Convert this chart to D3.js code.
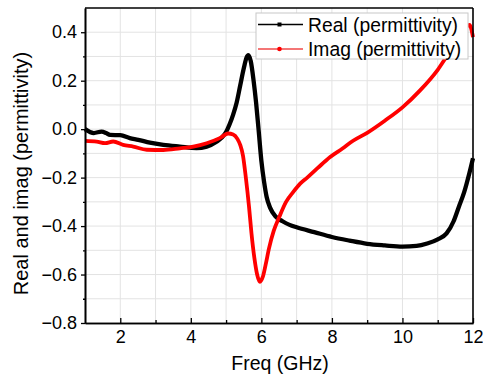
<!DOCTYPE html>
<html>
<head>
<meta charset="utf-8">
<script src="https://cdn.jsdelivr.net/npm/d3@7"></script>
<style>
  body { margin: 0; background: #fff; }
  svg { display: block; font-family: Arial, "Liberation Sans", sans-serif; }
  .grid line { stroke: #e3e3e3; stroke-width: 1; }
  .axis path, .axis line { stroke: #000; }
  .axis text { fill: #000; }
</style>
</head>
<body>
<div id="chart-area"></div>
<script>

let margin = {top: 8, right: 10, bottom: 56, left: 85};
let width = 483 - margin.left - margin.right;
let height = 379 - margin.top - margin.bottom;

// real part of permittivity
let realFreq = [1.0, 1.25, 1.47, 1.6, 1.71, 2.0, 2.27, 2.51, 2.84, 3.22, 3.69, 4.16, 4.45, 4.73, 4.88,
    5.0, 5.1, 5.2, 5.3, 5.4, 5.5, 5.58, 5.63, 5.7, 5.78, 5.85, 5.92, 6.0, 6.08, 6.15, 6.25, 6.4,
    6.6, 6.8, 7.0, 7.5, 8.0, 8.5, 9.0, 9.5, 10.0, 10.4, 10.7, 11.0, 11.25, 11.45, 11.6, 11.75, 11.9, 12.0];
let realVals = [0.0, -0.016, -0.01, -0.016, -0.024, -0.025, -0.037, -0.044, -0.056, -0.065, -0.072, -0.078, -0.072, -0.052, -0.035,
    -0.012, 0.02, 0.06, 0.11, 0.18, 0.25, 0.295, 0.305, 0.28, 0.2, 0.11, 0.0, -0.13, -0.22, -0.28, -0.325, -0.36,
    -0.38, -0.395, -0.405, -0.425, -0.445, -0.46, -0.473, -0.48, -0.485, -0.482, -0.472, -0.455, -0.43, -0.38, -0.32, -0.26, -0.18, -0.12];

// imaginary part of permittivity
let imagFreq = [1.0, 1.33, 1.57, 1.8, 2.08, 2.37, 2.75, 3.22, 3.69, 4.07, 4.45, 4.82, 5.06, 5.2, 5.32, 5.4,
    5.48, 5.56, 5.65, 5.72, 5.8, 5.88, 5.96, 6.04, 6.12, 6.22, 6.35, 6.5, 6.7, 6.9, 7.1, 7.3, 7.6,
    7.95, 8.3, 8.6, 9.0, 9.5, 10.0, 10.5, 11.0, 11.3, 11.6, 11.9, 12.0];
let imagVals = [-0.048, -0.051, -0.058, -0.051, -0.065, -0.072, -0.085, -0.086, -0.079, -0.072, -0.058, -0.037, -0.018, -0.022, -0.04, -0.065,
    -0.11, -0.2, -0.32, -0.43, -0.53, -0.6, -0.63, -0.61, -0.56, -0.49, -0.42, -0.365, -0.3, -0.26, -0.225, -0.2, -0.16,
    -0.115, -0.08, -0.048, -0.015, 0.035, 0.09, 0.16, 0.245, 0.31, 0.37, 0.43, 0.38];

let xTicks = [2, 4, 6, 8, 10, 12];
let yTicks = [-0.8, -0.6, -0.4, -0.2, 0.0, 0.2, 0.4];
let seriesNames = ["Real (permittivity)", "Imag (permittivity)"];

let svg = d3.select("#chart-area").append("svg")
    .attr("width", width + margin.left + margin.right)
    .attr("height", height + margin.top + margin.bottom)
    .append("g")
    .attr("transform", "translate(" + margin.left + "," + margin.top + ")");

let x = d3.scaleLinear().domain([1, 12]).range([0, width]);
let y = d3.scaleLinear().domain([-0.8, 0.5]).range([height, 0]);

// grid every 1 GHz and every 0.1
svg.append("g").attr("class", "grid")
    .selectAll("line").data(d3.range(2, 12))
    .enter().append("line")
    .attr("x1", d => x(d)).attr("x2", d => x(d))
    .attr("y1", 0).attr("y2", height);

svg.append("g").attr("class", "grid")
    .selectAll("line").data(d3.range(-7, 5).map(d => d / 10))
    .enter().append("line")
    .attr("x1", 0).attr("x2", width)
    .attr("y1", d => y(d)).attr("y2", d => y(d));

// lines
let realLine = d3.line()
    .x((d, i) => x(realFreq[i]))
    .y(d => y(d))
    .curve(d3.curveMonotoneX);

let imagLine = d3.line()
    .x((d, i) => x(imagFreq[i]))
    .y(d => y(d))
    .curve(d3.curveMonotoneX);

svg.append("path")
    .datum(realVals)
    .attr("d", realLine)
    .attr("fill", "none")
    .attr("stroke", "#000")
    .attr("stroke-width", 4.3);

svg.append("path")
    .datum(imagVals)
    .attr("d", imagLine)
    .attr("fill", "none")
    .attr("stroke", "#ff0000")
    .attr("stroke-width", 3.8);

// axes
let xAxis = d3.axisBottom(x).tickValues(xTicks)
    .tickSizeInner(-5).tickSizeOuter(0).tickPadding(7)
    .tickFormat(d3.format("d"));
let xMinor = d3.axisBottom(x).tickValues([3, 5, 7, 9, 11])
    .tickSizeInner(-3).tickSizeOuter(0).tickFormat("");

let yAxis = d3.axisLeft(y).tickValues(yTicks)
    .tickSizeInner(4).tickSizeOuter(0).tickPadding(4)
    .tickFormat(d3.format(".1f"));
let yMinor = d3.axisLeft(y).tickValues([-0.7, -0.5, -0.3, -0.1, 0.1, 0.3])
    .tickSizeInner(2).tickSizeOuter(0).tickFormat("");

svg.append("g").attr("class", "axis")
    .attr("transform", "translate(0," + height + ")")
    .call(xMinor);
let xg = svg.append("g").attr("class", "axis")
    .attr("transform", "translate(0," + height + ")")
    .call(xAxis);
xg.selectAll("text").style("font-size", "18px");

svg.append("g").attr("class", "axis").call(yMinor);
let yg = svg.append("g").attr("class", "axis").call(yAxis);
yg.selectAll("text").style("font-size", "18px");

svg.selectAll(".axis path").attr("stroke-width", 1.6);
svg.selectAll(".axis line").attr("stroke-width", 1.3);

// frame on top and right
svg.append("line").attr("x1", 0).attr("x2", width).attr("y1", 0).attr("y2", 0)
    .attr("stroke", "#000").attr("stroke-width", 1.6);
svg.append("line").attr("x1", width).attr("x2", width).attr("y1", 0).attr("y2", height)
    .attr("stroke", "#000").attr("stroke-width", 1.6);

// axis titles
svg.append("text")
    .attr("x", width / 2 + 1)
    .attr("y", height + 47)
    .attr("text-anchor", "middle")
    .style("font-size", "19.5px")
    .text("Freq (GHz)");

svg.append("text")
    .attr("transform", "translate(" + (-57) + "," + (height / 2 + 8) + ") rotate(-90)")
    .attr("text-anchor", "middle")
    .style("font-size", "20px")
    .text("Real and imag (permittivity)");

// legend
let legend = svg.append("g")
    .attr("transform", "translate(" + (256 - margin.left) + "," + (13 - margin.top) + ")");

legend.append("rect")
    .attr("width", 212).attr("height", 46)
    .attr("fill", "#fff")
    .attr("stroke", "#c8c8c8")
    .attr("stroke-width", 1);

let legColors = ["#000", "#f04848"];
let items = legend.selectAll("g.item")
    .data(seriesNames)
    .enter().append("g")
    .attr("class", "item")
    .attr("transform", (d, i) => "translate(0," + (11.5 + i * 24.5) + ")");

items.append("line")
    .attr("x1", 2).attr("x2", 47)
    .attr("stroke", (d, i) => legColors[i])
    .attr("stroke-width", 1.4);

items.filter((d, i) => i === 0).append("rect")
    .attr("x", 21.5).attr("y", -2).attr("width", 4).attr("height", 4)
    .attr("fill", "#000");

items.filter((d, i) => i === 1).append("circle")
    .attr("cx", 23.5).attr("r", 2.3)
    .attr("fill", "#ff0000");

items.append("text")
    .attr("x", 52)
    .attr("y", 7)
    .style("font-size", "19.3px")
    .text(d => d);

</script>
</body>
</html>
